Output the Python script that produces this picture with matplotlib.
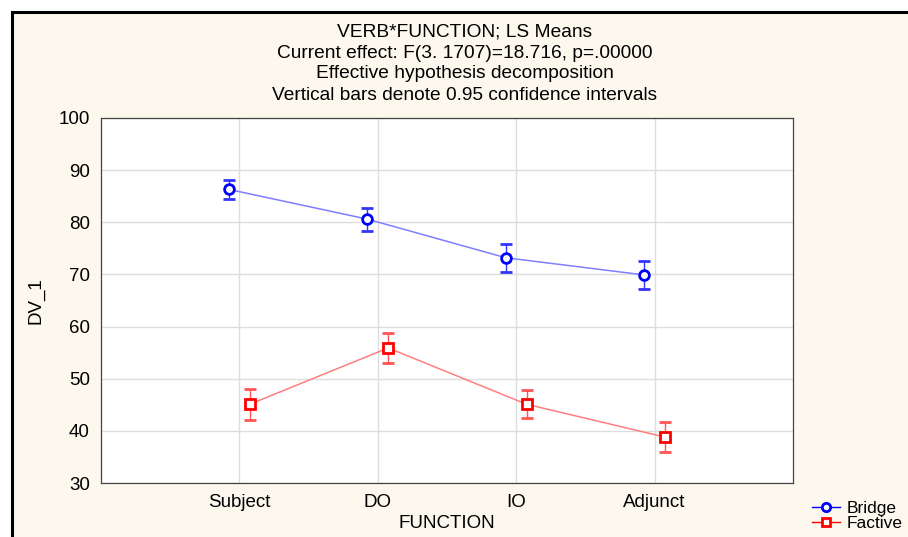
import matplotlib.pyplot as plt
from matplotlib.patches import Rectangle
from matplotlib.lines import Line2D

categories = ["Subject", "DO", "IO", "Adjunct"]
bridge_mean = [86.3, 80.6, 73.2, 69.9]
bridge_ci = [1.8, 2.2, 2.7, 2.65]
factive_mean = [45.1, 55.9, 45.1, 38.8]
factive_ci = [3.0, 2.8, 2.65, 2.9]

title_lines = [
    "VERB*FUNCTION; LS Means",
    "Current effect: F(3. 1707)=18.716, p=.00000",
    "Effective hypothesis decomposition",
    "Vertical bars denote 0.95 confidence intervals",
]

plt.rcParams["font.family"] = ["Liberation Sans", "DejaVu Sans"]

fig = plt.figure(figsize=(9.08, 5.37), dpi=100)
fig.patch.set_facecolor("white")
# cream panel with black frame (cropped at right/bottom)
top = 1 - 12 / 537
fig.patches.append(Rectangle((12 / 908, -0.05), 1.1, top + 0.05,
                             transform=fig.transFigure, facecolor="#fdf8ee",
                             edgecolor="black", linewidth=2.2, zorder=-10))

ax = fig.add_axes([101 / 908, 54 / 537, 692 / 908, 365 / 537])
ax.set_facecolor("white")

x = list(range(1, len(categories) + 1))
off = 0.075
xb = [v - off for v in x]
xf = [v + off for v in x]

ax.plot(xb, bridge_mean, color="#7f7fff", lw=1.1, zorder=2)
ax.errorbar(xb, bridge_mean, yerr=bridge_ci, fmt="o", color="blue",
            mfc="white", mec="blue", mew=2, ms=7, ecolor="#3333ff",
            elinewidth=1.0, capsize=4.5, capthick=1.0, zorder=3)
ax.plot(xf, factive_mean, color="#ff7f7f", lw=1.1, zorder=2)
ax.errorbar(xf, factive_mean, yerr=factive_ci, fmt="s", color="red",
            mfc="white", mec="red", mew=2, ms=7, ecolor="#ff5555",
            elinewidth=1.0, capsize=4.5, capthick=1.0, zorder=3)

ax.set_xlim(0, 5)
ax.set_ylim(30, 100)
ax.set_xticks(x)
ax.set_xticklabels(categories)
ax.set_yticks(range(30, 101, 10))
ax.grid(True, color="#dddddd", lw=1)
ax.set_axisbelow(True)
ax.tick_params(axis="both", length=0, labelsize=13.5, pad=8)
for s in ax.spines.values():
    s.set_color("#444444")
    s.set_linewidth(0.9)

ax.set_ylabel("DV_1", fontsize=13.5, labelpad=10)
ax.set_xlabel("FUNCTION", fontsize=13.5, labelpad=3)

for i, line in enumerate(title_lines):
    fig.text(465 / 908, 1 - (32 + 21 * i) / 537, line, ha="center", va="center",
             fontsize=13.8)

handles = [
    Line2D([], [], color="blue", marker="o", mfc="white", mec="blue", mew=2, ms=6, lw=1),
    Line2D([], [], color="red", marker="s", mfc="white", mec="red", mew=2, ms=6, lw=1),
]
fig.legend(handles=handles, labels=["Bridge", "Factive"], loc="lower left",
           bbox_to_anchor=(800 / 908, -0.012), frameon=False, fontsize=12.5,
           handlelength=1.6, handletextpad=0.4, labelspacing=0.0, borderpad=0.2)

fig.savefig("out.png", dpi=100)
